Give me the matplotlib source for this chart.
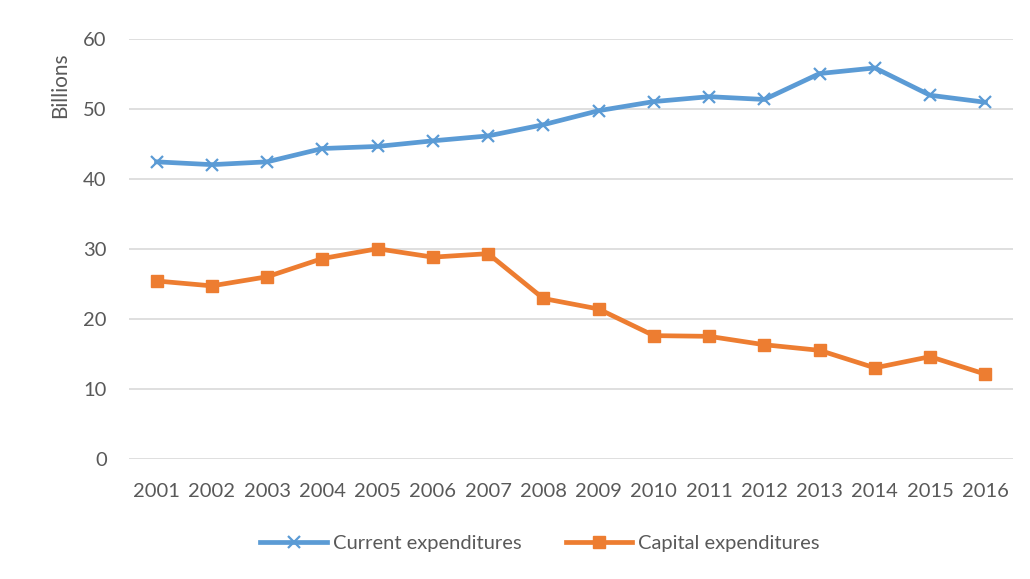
import matplotlib.pyplot as plt

# ------------------------------
# DATA
# ------------------------------
years = ["2001", "2002", "2003", "2004", "2005", "2006", "2007", "2008",
         "2009", "2010", "2011", "2012", "2013", "2014", "2015", "2016"]
current = [42.4, 42.0, 42.4, 44.3, 44.6, 45.4, 46.1, 47.7,
           49.7, 51.0, 51.7, 51.3, 55.0, 55.8, 51.9, 50.9]
capital = [25.4, 24.7, 26.0, 28.6, 30.0, 28.8, 29.3, 22.9,
           21.4, 17.6, 17.5, 16.3, 15.5, 13.0, 14.6, 12.1]

blue = "#5B9BD5"
orange = "#ED7D31"
txt = "#595959"

plt.rcParams["font.family"] = ["Lato", "DejaVu Sans"]

fig = plt.figure(figsize=(10.3, 5.79), dpi=100)
ax = fig.add_axes([0.1252, 0.2073, 0.8583, 0.7262])

x = range(len(years))
ax.plot(x, current, color=blue, lw=3.4, marker="x", ms=9, mew=1.6,
        label="Current expenditures")
ax.plot(x, capital, color=orange, lw=3.4, marker="s", ms=9,
        label="Capital expenditures")

ax.set_xlim(-0.5, len(years) - 0.5)
ax.set_ylim(0, 60)
ax.set_yticks(range(0, 61, 10))
ax.set_xticks(list(x))
ax.set_xticklabels(years)
ax.grid(axis="y", color="#D9D9D9", lw=1.2)
ax.set_axisbelow(True)
for s in ax.spines.values():
    s.set_visible(False)
ax.tick_params(length=0, labelsize=14.5, colors=txt)
ax.tick_params(axis="x", pad=17)
ax.tick_params(axis="y", pad=16)

fig.text(60 / 1030, 1 - 85 / 579, "Billions", rotation=90, ha="center",
         va="center", fontsize=15, color=txt)

leg = ax.legend(loc="center", bbox_to_anchor=(0.465, -0.2), ncol=2,
                frameon=False, fontsize=14.5, handlelength=3.3,
                columnspacing=2.2, handletextpad=0.3)
for t in leg.get_texts():
    t.set_color(txt)

fig.savefig("out.png", dpi=100)
